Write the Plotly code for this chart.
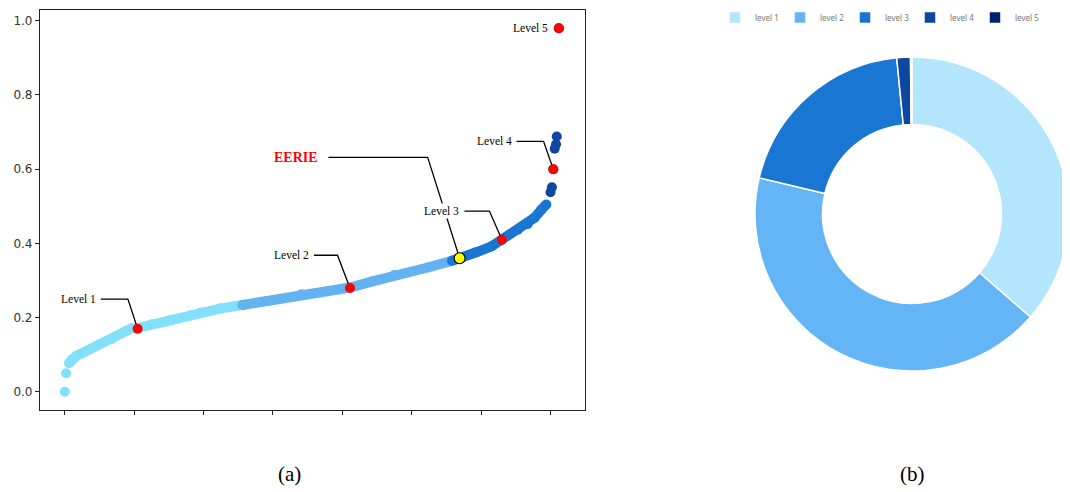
import plotly.graph_objects as go

# ---------------- data ----------------
# (a) sorted scores, split by level
lvl1_dots_x = [0, 2]
lvl1_dots_y = [0.0, 0.05]
lvl1_x = [6, 10, 17, 29, 48, 67, 86, 96, 105, 125, 154, 182, 196, 225, 256]
lvl1_y = [0.077, 0.088, 0.097, 0.108, 0.126, 0.142, 0.162, 0.171, 0.172, 0.182, 0.194, 0.206, 0.214, 0.225, 0.234]
lvl2_x = [256, 293, 341, 380, 411, 442, 475, 523, 558]
lvl2_y = [0.234, 0.245, 0.263, 0.272, 0.281, 0.297, 0.315, 0.335, 0.353]
lvl3_x = [558, 571, 593, 615, 630, 653, 667, 677, 687, 694]
lvl3_y = [0.353, 0.360, 0.376, 0.392, 0.410, 0.437, 0.452, 0.469, 0.491, 0.505]
lvl4_x = [700, 702, 704, 706, 708, 709]
lvl4_y = [0.538, 0.551, 0.600, 0.655, 0.667, 0.688]
lvl5_x = [712]
lvl5_y = [0.98]

level_names = ["Level 1", "Level 2", "Level 3", "Level 4", "Level 5"]
level_idx = [105, 411, 630, 704, 712]
level_val = [0.17, 0.28, 0.41, 0.60, 0.98]
eerie_idx = 569
eerie_val = 0.36

# (b) share of each level (%)
pie_labels = ["level 1", "level 2", "level 3", "level 4", "level 5"]
pie_values = [36.3, 42.2, 19.7, 1.4, 0.15]

x_ticks = [0, 100, 200, 300, 400, 500, 600, 700]
y_ticks = [0.0, 0.2, 0.4, 0.6, 0.8, 1.0]
y_tick_text = ["0.0", "0.2", "0.4", "0.6", "0.8", "1.0"]

# ---------------- styles ----------------
C1, C2, C3, C4 = "#82e0fa", "#63b3f1", "#1976d2", "#0d47a1"
PIE_COLORS = ["#b3e5fc", "#64b5f6", "#1976d2", "#0d47a1", "#002171"]
BAND = 10
SERIF = "Liberation Serif"
# page is 1070x492; the html body has an 8px default margin
OFF = 8
W, H = 1070 - OFF, 492 - OFF


def px(x):  # page pixel -> paper x
    return (x - OFF) / W


def py(y):  # page pixel -> paper y
    return 1 - (y - OFF) / H


fig = go.Figure()


def band(xs, ys, color):
    fig.add_trace(go.Scatter(
        x=xs, y=ys, mode="lines+markers",
        line=dict(color=color, width=BAND),
        marker=dict(color=color, size=BAND),
        showlegend=False, hoverinfo="skip"))


def dots(xs, ys, color, size=BAND, line=None):
    fig.add_trace(go.Scatter(
        x=xs, y=ys, mode="markers",
        marker=dict(color=color, size=size, line=line or dict(width=0)),
        showlegend=False, hoverinfo="skip"))


dots(lvl1_dots_x, lvl1_dots_y, C1)
band(lvl1_x, lvl1_y, C1)
band(lvl2_x, lvl2_y, C2)
band(lvl3_x, lvl3_y, C3)
dots(lvl4_x, lvl4_y, C4)
dots(lvl5_x, lvl5_y, "#0a2472")

# connectors (offsets from each labelled point, in data units)
# (elbow dx, elbow dy, horizontal start dx)
conn = {
    "Level 1": (14, 0.080, 53),
    "Level 2": (18, 0.088, 52),
    "Level 3": (18, 0.077, 54),
    "Level 4": (14, 0.075, 53),
}
annotations = []
for name, xi, yv in zip(level_names, level_idx, level_val):
    if name in conn:
        dx, dy, sx = conn[name]
        fig.add_trace(go.Scatter(
            x=[xi - sx, xi - dx, xi], y=[yv + dy, yv + dy, yv],
            mode="lines", line=dict(color="black", width=1.3),
            showlegend=False, hoverinfo="skip"))
        annotations.append(dict(
            x=xi - sx, y=yv + dy, xref="x", yref="y", text=name,
            showarrow=False, xanchor="right", yanchor="middle", xshift=-3,
            font=dict(family=SERIF, size=11.5, color="black"),
            bgcolor="white", borderpad=1))
    else:
        annotations.append(dict(
            x=xi, y=yv, xref="x", yref="y", text=name,
            showarrow=False, xanchor="right", yanchor="middle", xshift=-9,
            font=dict(family=SERIF, size=11.5, color="black")))

# EERIE connector
e_dx, e_dy, e_sx = 46, 0.272, 189
fig.add_trace(go.Scatter(
    x=[eerie_idx - e_sx, eerie_idx - e_dx, eerie_idx],
    y=[eerie_val + e_dy, eerie_val + e_dy, eerie_val],
    mode="lines", line=dict(color="black", width=1.3),
    showlegend=False, hoverinfo="skip"))
annotations.append(dict(
    x=eerie_idx - e_sx, y=eerie_val + e_dy, xref="x", yref="y", text="<b>EERIE</b>",
    showarrow=False, xanchor="right", yanchor="middle", xshift=-8,
    font=dict(family=SERIF, size=14, color="#ff0000")))

# level markers
dots(level_idx, level_val, "#ff0000", size=10)
dots([eerie_idx], [eerie_val], "#ffff00", size=11, line=dict(color="black", width=1.2))

# donut
CX, CY, R = 912, 214, 157
fig.add_trace(go.Pie(
    labels=pie_labels, values=pie_values, hole=0.57, sort=False,
    direction="clockwise", rotation=0,
    marker=dict(colors=PIE_COLORS, line=dict(color="white", width=1.5)),
    textinfo="none", hoverinfo="label+percent",
    domain=dict(x=[px(CX - R), px(CX + R)], y=[py(CY + R), py(CY - R)]),
    showlegend=True))

# captions
for label, cx in (("(a)", 289), ("(b)", 912)):
    annotations.append(dict(x=px(cx), y=py(474), xref="paper", yref="paper",
                            text=label, showarrow=False,
                            xanchor="center", yanchor="middle",
                            font=dict(family=SERIF, size=21, color="black")))

fig.update_layout(
    width=W, height=H,
    margin=dict(l=0, r=0, t=0, b=0, autoexpand=False),
    paper_bgcolor="white", plot_bgcolor="white",
    showlegend=True,
    legend=dict(orientation="h", x=px(1040), xanchor="right", y=py(3), yanchor="top",
                font=dict(family="Noto Sans", size=8, color="#777"),
                itemwidth=30, entrywidth=20, tracegroupgap=0),
    xaxis=dict(domain=[px(40), px(585)], range=[-35.7, 749.7], automargin=False,
               showgrid=False, zeroline=False, showline=True, mirror=True,
               linecolor="#222", linewidth=1.2, ticks="outside", ticklen=4,
               tickcolor="#222", tickvals=x_ticks, showticklabels=False),
    yaxis=dict(domain=[py(410), py(10)], range=[-0.049, 1.029], automargin=False,
               showgrid=False, zeroline=False, showline=True, mirror=True,
               linecolor="#222", linewidth=1.2, ticks="outside", ticklen=4,
               tickcolor="#222", tickvals=y_ticks, ticktext=y_tick_text,
               tickfont=dict(family="DejaVu Sans", size=12, color="#333")),
    annotations=annotations,
)

fig.write_html("out.html")
